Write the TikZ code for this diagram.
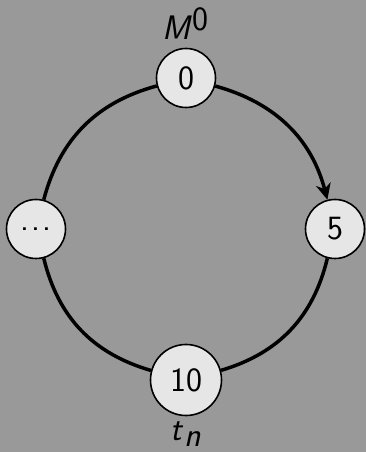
\documentclass[tikz,border=0pt]{standalone}
\usetikzlibrary{arrows.meta}
\definecolor{bggray}{RGB}{153,153,153}
\definecolor{nodefill}{RGB}{230,230,230}
\begin{document}
\begin{tikzpicture}[x=1pt,y=1pt,
  state/.style={circle, draw=black, line width=1.6pt, fill=nodefill,
    inner sep=0pt, minimum size=59pt, font=\fontsize{34}{40}\selectfont\sffamily},
  lbl/.style={font=\fontsize{34}{40}\selectfont\sffamily, inner sep=0pt},
  conn/.style={line width=3.5pt, draw=black}]
\fill[bggray] (0,0) rectangle (366,452);
\useasboundingbox (0,0) rectangle (366,452);
\node[state] (n0) at (186,374) {0};
\node[state] (n5) at (335,223) {5};
\node[state, minimum size=71pt] (n10) at (186,72) {10};
\node[state] (nd) at (36,223) {.\kern1.8pt.\kern1.8pt.};
\node[lbl] (m0) at (186,428) {\textit{M}$^{\textsf{0}}$};
\node[lbl] (tn) at (186,18) {\textit{t}$_{\textsf{\textit{n}}}$};
\draw[conn, -{Stealth[length=16pt, width=15pt, inset=5pt]}] (n0) to[bend left] (n5);
\draw[conn] (n5) to[bend left] (n10);
\draw[conn] (n10) to[bend left] (nd);
\draw[conn] (nd) to[bend left] (n0);
\end{tikzpicture}
\end{document}
